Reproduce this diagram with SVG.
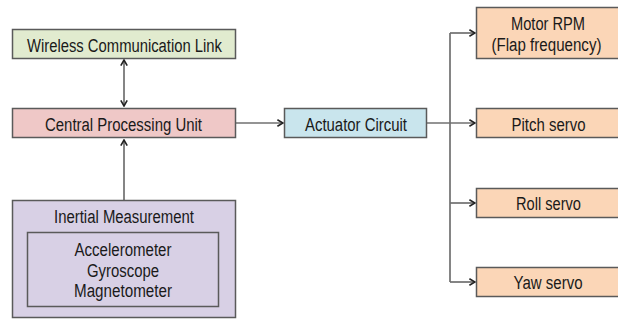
<svg xmlns="http://www.w3.org/2000/svg" width="618" height="320" viewBox="0 0 618 320">
<defs>
<style>
.box{stroke:#5a5a5a;stroke-width:1.5}
.t{font-family:"Liberation Sans",Arial,sans-serif;font-size:18px;fill:#1a1a1a;text-anchor:middle}
.c{fill:none;stroke:#707070;stroke-width:1.7}
</style>
<marker id="ah" viewBox="0 0 10 10" refX="9" refY="5" markerWidth="8" markerHeight="8" markerUnits="userSpaceOnUse" orient="auto-start-reverse">
<path d="M2,1 L9,5 L2,9" fill="none" stroke="#222" stroke-width="2"/>
</marker>
</defs>
<rect width="618" height="320" fill="#fff"/>
<g id="connectors">
<path class="c" d="M124,60 V106" marker-start="url(#ah)" marker-end="url(#ah)"/>
<path class="c" d="M124,200 V140" marker-end="url(#ah)"/>
<path class="c" d="M236,123 H283" marker-end="url(#ah)"/>
<path class="c" d="M427,123 H475" marker-end="url(#ah)"/>
<path class="c" d="M450,33 V282"/>
<path class="c" d="M450,33 H475" marker-end="url(#ah)"/>
<path class="c" d="M450,203 H475" marker-end="url(#ah)"/>
<path class="c" d="M450,282 H475" marker-end="url(#ah)"/>
</g>
<g id="wireless">
<rect class="box" x="12.5" y="29.5" width="223" height="29" fill="#e1ebcf"/>
<text class="t" x="124.5" y="51.5" textLength="195" lengthAdjust="spacingAndGlyphs">Wireless Communication Link</text>
</g>
<g id="cpu">
<rect class="box" x="12.5" y="108.5" width="223" height="29" fill="#efc8c7"/>
<text class="t" x="123.5" y="131" textLength="157" lengthAdjust="spacingAndGlyphs">Central Processing Unit</text>
</g>
<g id="imu">
<rect class="box" x="12.5" y="200.5" width="223" height="117" fill="#d8d0e5"/>
<text class="t" x="124" y="223" textLength="140" lengthAdjust="spacingAndGlyphs">Inertial Measurement</text>
<rect class="box" x="27.5" y="232.5" width="191" height="74" fill="#d8d0e5"/>
<text class="t" x="123" y="256" textLength="97" lengthAdjust="spacingAndGlyphs">Accelerometer</text>
<text class="t" x="123" y="277" textLength="72" lengthAdjust="spacingAndGlyphs">Gyroscope</text>
<text class="t" x="123" y="297" textLength="98" lengthAdjust="spacingAndGlyphs">Magnetometer</text>
</g>
<g id="actuator">
<rect class="box" x="284.5" y="108.5" width="142" height="29" fill="#c9e5ed"/>
<text class="t" x="356" y="131" textLength="102" lengthAdjust="spacingAndGlyphs">Actuator Circuit</text>
</g>
<g id="motor">
<rect class="box" x="476.5" y="7.5" width="150" height="51" fill="#fbd6b7"/>
<text class="t" x="548" y="30" textLength="74" lengthAdjust="spacingAndGlyphs">Motor RPM</text>
<text class="t" x="546.5" y="51" textLength="110" lengthAdjust="spacingAndGlyphs">(Flap frequency)</text>
</g>
<g id="pitch">
<rect class="box" x="476.5" y="108.5" width="150" height="29" fill="#fbd6b7"/>
<text class="t" x="548.5" y="130.5" textLength="74" lengthAdjust="spacingAndGlyphs">Pitch servo</text>
</g>
<g id="roll">
<rect class="box" x="476.5" y="188.5" width="150" height="29" fill="#fbd6b7"/>
<text class="t" x="548.5" y="210" textLength="65" lengthAdjust="spacingAndGlyphs">Roll servo</text>
</g>
<g id="yaw">
<rect class="box" x="476.5" y="267.5" width="150" height="29" fill="#fbd6b7"/>
<text class="t" x="548" y="288.5" textLength="69" lengthAdjust="spacingAndGlyphs">Yaw servo</text>
</g>
</svg>
